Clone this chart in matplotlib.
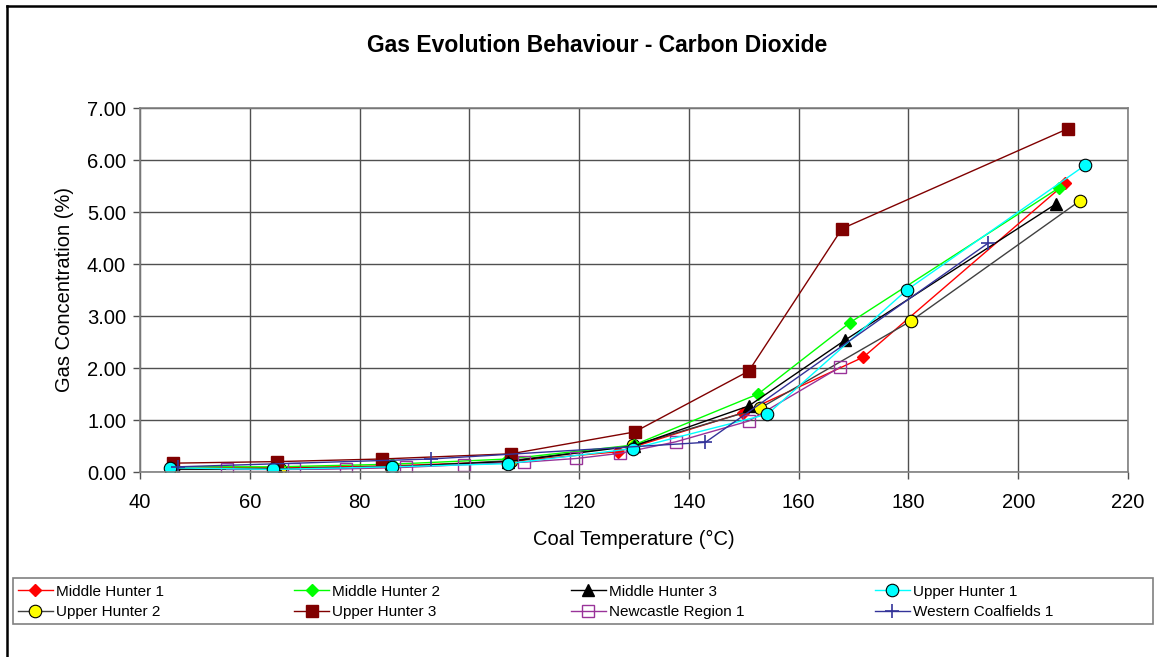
# Gas evolution behaviour - carbon dioxide chart

# imports
import matplotlib
matplotlib.use("Agg")
from matplotlib import pyplot as plt
from matplotlib.lines import Line2D
from matplotlib.patches import Rectangle


# data (temperature in C, concentration in %)
mh1_temp = [46, 65, 86, 107, 127.1, 149.9, 171.8, 208.6]
mh1_conc = [0.10, 0.08, 0.12, 0.20, 0.39, 1.14, 2.21, 5.55]

mh2_temp = [46, 65, 86, 107, 130, 152.6, 169.3, 207.5]
mh2_conc = [0.10, 0.10, 0.15, 0.25, 0.52, 1.50, 2.87, 5.47]

mh3_temp = [45.5, 65, 86, 107, 130, 150.9, 168.5, 206.8]
mh3_conc = [0.06, 0.06, 0.10, 0.20, 0.50, 1.27, 2.54, 5.15]

uh1_temp = [45.5, 64.3, 86, 107, 129.8, 154.3, 179.7, 212.2]
uh1_conc = [0.08, 0.05, 0.10, 0.16, 0.45, 1.11, 3.50, 5.90]

uh2_temp = [46, 65.5, 85.7, 107.6, 129.9, 153.0, 180.4, 211.3]
uh2_conc = [0.05, 0.05, 0.09, 0.22, 0.51, 1.23, 2.90, 5.22]

uh3_temp = [46, 65, 84, 107.6, 130.1, 150.9, 167.9, 209.0]
uh3_conc = [0.17, 0.20, 0.25, 0.35, 0.77, 1.94, 4.68, 6.60]

ncr1_temp = [55.8, 68, 77.5, 88.5, 99, 110, 119.5, 127.5, 137.6, 150.9, 167.6]
ncr1_conc = [0.05, 0.05, 0.06, 0.09, 0.14, 0.19, 0.26, 0.36, 0.58, 0.98, 2.02]

wc1_temp = [47, 93, 143, 194.5]
wc1_conc = [0.10, 0.25, 0.57, 4.40]


# figure
plt.rcParams["font.family"] = ["Liberation Sans", "DejaVu Sans"]
fig = plt.figure(figsize=(11.57, 6.57), dpi=100)
ax = fig.add_axes([140 / 1157, 1 - 472 / 657, 988 / 1157, 364 / 657])

lw = 1.0
ax.plot(mh1_temp, mh1_conc, color="#FF0000", lw=lw, marker="D", ms=6,
        mfc="#FF0000", mec="#FF0000", label="Middle Hunter 1")
ax.plot(uh2_temp, uh2_conc, color="#404040", lw=lw, marker="o", ms=9,
        mfc="#FFFF00", mec="black", mew=0.8, label="Upper Hunter 2")
ax.plot(mh2_temp, mh2_conc, color="#00FF00", lw=lw, marker="D", ms=6,
        mfc="#00FF00", mec="#00FF00", label="Middle Hunter 2")
ax.plot(uh3_temp, uh3_conc, color="#800000", lw=lw, marker="s", ms=9,
        mfc="#800000", mec="#800000", label="Upper Hunter 3")
ax.plot(mh3_temp, mh3_conc, color="black", lw=lw, marker="^", ms=8,
        mfc="black", mec="black", label="Middle Hunter 3")
ax.plot(ncr1_temp, ncr1_conc, color="#993399", lw=lw, marker="s", ms=9,
        mfc="none", mec="#993399", mew=1.0, label="Newcastle Region 1")
ax.plot(uh1_temp, uh1_conc, color="#00FFFF", lw=lw, marker="o", ms=9,
        mfc="#00FFFF", mec="black", mew=0.8, label="Upper Hunter 1")
ax.plot(wc1_temp, wc1_conc, color="#333399", lw=lw, marker="+", ms=10,
        mew=1.2, label="Western Coalfields 1")

# axes
ax.set_xlim(40, 220)
ax.set_ylim(0, 7)
ax.set_xticks(range(40, 221, 20))
ax.set_yticks(range(0, 8))
ax.set_yticklabels(["%.2f" % v for v in range(0, 8)])
ax.grid(True, color="#505050", lw=1.0)
ax.set_axisbelow(True)
for s in ax.spines.values():
    s.set_color("#808080")
    s.set_linewidth(1.2)
ax.tick_params(direction="out", length=5, width=1, color="#505050",
               labelsize=14.5)
ax.tick_params(axis="x", pad=10)
ax.tick_params(axis="y", pad=5)
ax.set_xlabel("Coal Temperature (°C)", fontsize=14.5, labelpad=13)
ax.set_ylabel("Gas Concentration (%)", fontsize=14.5, labelpad=9)

# title
fig.text(0.516, 1 - 45 / 657, "Gas Evolution Behaviour - Carbon Dioxide",
         ha="center", va="center", fontsize=16.5, fontweight="bold")

# legend, frame drawn separately so columns keep Excel-like spacing
leg = fig.legend(loc="lower left", ncol=4, mode="expand",
                 bbox_to_anchor=(13 / 1157, 1 - 624 / 657, 1045 / 1157, 46 / 657),
                 fontsize=11, frameon=False, handlelength=2.3,
                 borderpad=0.3, labelspacing=0.45, handletextpad=0.2,
                 borderaxespad=0)
fig.add_artist(Rectangle((13 / 1157, 1 - 624 / 657), 1140 / 1157, 46 / 657,
                         transform=fig.transFigure, fill=False,
                         edgecolor="#808080", lw=1.2))

# outer border (top and left only are visible)
fig.add_artist(Line2D([7 / 1157, 1], [1 - 6 / 657, 1 - 6 / 657],
                      transform=fig.transFigure, color="black", lw=1.8))
fig.add_artist(Line2D([7 / 1157, 7 / 1157], [0, 1 - 6 / 657],
                      transform=fig.transFigure, color="black", lw=1.8))

fig.savefig("out.png", dpi=100)
